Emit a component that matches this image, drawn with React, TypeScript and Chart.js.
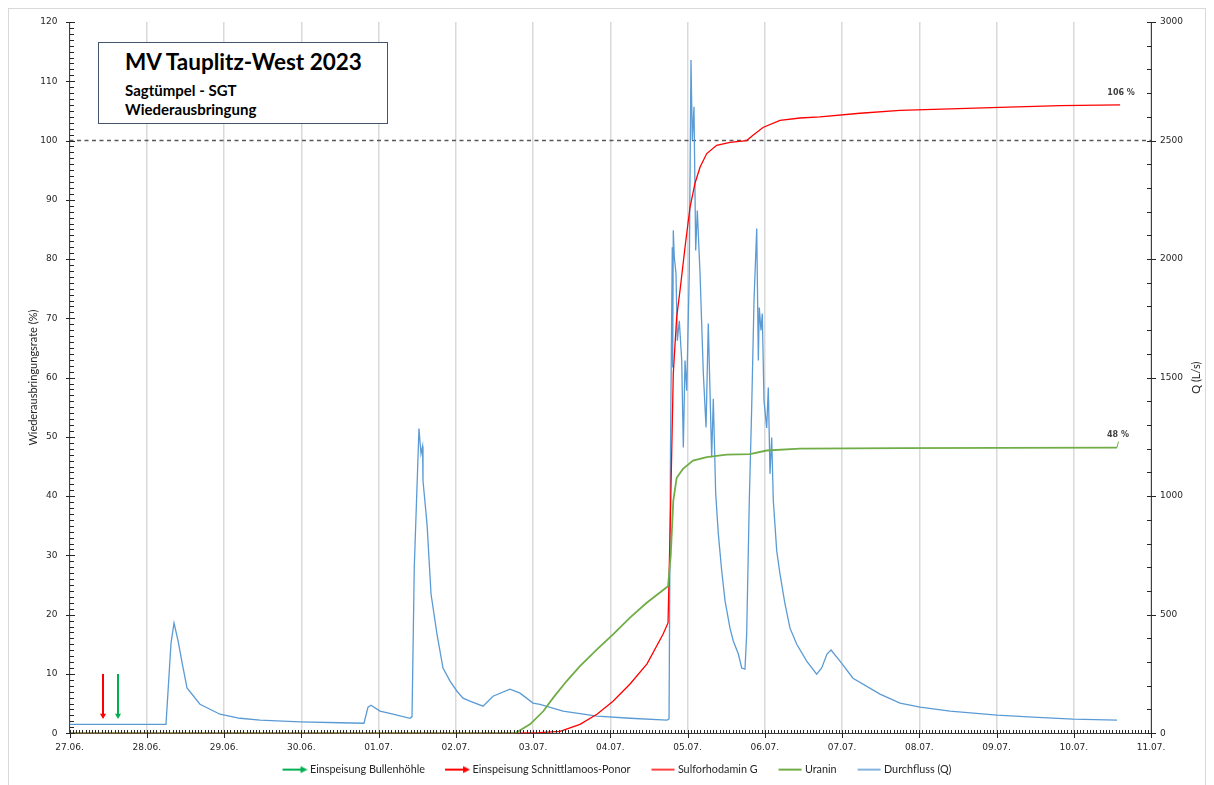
import React, { useEffect, useRef } from 'react';
import { Chart, registerables } from 'chart.js';

Chart.register(...registerables);

// ---------- data ----------
const dayLabels = ['27.06.', '28.06.', '29.06.', '30.06.', '01.07.', '02.07.', '03.07.', '04.07.', '05.07.', '06.07.', '07.07.', '08.07.', '09.07.', '10.07.', '11.07.'];

// time = days since 27.06. 00:00
const qTimes = [0, 1.249, 1.314, 1.353, 1.405, 1.456, 1.521, 1.689, 1.948, 2.207, 2.466, 2.984, 3.502, 3.812, 3.864, 3.903, 4.019, 4.188, 4.408, 4.434, 4.463, 4.524, 4.55, 4.57, 4.576, 4.628, 4.68, 4.757, 4.835, 4.926, 5.016, 5.094, 5.184, 5.353, 5.482, 5.702, 5.832, 6.0, 6.091, 6.388, 6.828, 7.256, 7.735, 7.761, 7.78, 7.803, 7.808, 7.816, 7.829, 7.851, 7.868, 7.894, 7.925, 7.946, 7.968, 7.99, 8.023, 8.045, 8.062, 8.084, 8.106, 8.127, 8.162, 8.205, 8.24, 8.269, 8.291, 8.313, 8.334, 8.365, 8.399, 8.443, 8.486, 8.55, 8.593, 8.658, 8.702, 8.744, 8.766, 8.8, 8.831, 8.861, 8.896, 8.917, 8.929, 8.951, 8.968, 8.99, 9.025, 9.046, 9.068, 9.09, 9.111, 9.155, 9.197, 9.262, 9.327, 9.414, 9.543, 9.672, 9.737, 9.806, 9.858, 9.974, 10.142, 10.492, 10.751, 11.01, 11.398, 12.006, 12.472, 12.99, 13.56];
const qValues = [37, 37, 380, 465, 390, 300, 191, 122, 80, 63, 55, 48, 44, 42, 110, 118, 93, 80, 63, 70, 698, 1285, 1178, 1210, 1065, 883, 587, 418, 275, 220, 177, 148, 135, 114, 156, 186, 169, 127, 122, 93, 72, 63, 55, 60, 1200, 2050, 1543, 2121, 2008, 1940, 1656, 1740, 1572, 1205, 1572, 1445, 1940, 2840, 2502, 2642, 2036, 2205, 1940, 1517, 1290, 1728, 1445, 1163, 1411, 1010, 841, 684, 558, 443, 389, 334, 275, 270, 418, 980, 1373, 1825, 2129, 1572, 1796, 1699, 1770, 1403, 1288, 1458, 1094, 1247, 980, 769, 672, 545, 443, 375, 304, 249, 275, 334, 351, 304, 232, 165, 127, 110, 93, 76, 68, 59, 55];

const sgTimes = [0, 5.789, 6.091, 6.35, 6.608, 6.828, 7.036, 7.256, 7.476, 7.683, 7.748, 7.783, 7.816, 7.86, 7.903, 7.968, 8.032, 8.097, 8.162, 8.249, 8.378, 8.55, 8.766, 8.848, 8.977, 9.197, 9.456, 9.715, 10.233, 10.751, 12.045, 12.822, 13.6];
const sgValues = [0, 0, 0.1, 0.3, 1.5, 3.2, 5.4, 8.3, 11.7, 16.7, 18.6, 39.2, 60.7, 70.2, 74.7, 82, 88.7, 92.8, 95.5, 97.8, 99.2, 99.7, 100, 100.9, 102.2, 103.4, 103.8, 104, 104.6, 105.1, 105.6, 105.9, 106];

const urTimes = [0, 5.767, 5.961, 6.133, 6.263, 6.436, 6.608, 6.825, 7.04, 7.256, 7.472, 7.748, 7.783, 7.816, 7.86, 7.942, 8.071, 8.249, 8.508, 8.809, 9.025, 9.456, 10.751, 12.045, 13.56];
const urValues = [0, 0, 1.5, 3.7, 6.0, 8.8, 11.3, 14.1, 16.7, 19.5, 22.0, 24.8, 30.0, 39.2, 43.1, 44.6, 46.0, 46.6, 47.0, 47.1, 47.7, 48.0, 48.1, 48.15, 48.2];

const injectionBullenhoehle = 0.628;
const injectionSchnittlamoos = 0.434;
const arrowFrom = 10;
const arrowTo = 3;
const fullRecovery = 100;

const seriesNames = ['Einspeisung Bullenhöhle', 'Einspeisung Schnittlamoos-Ponor', 'Sulforhodamin G', 'Uranin', 'Durchfluss (Q)'];
const endLabels = ['106 %', '48 %'];
const titleLines = ['MV Tauplitz-West 2023', 'Sagtümpel - SGT', 'Wiederausbringung'];
const leftAxisTitle = 'Wiederausbringungsrate (%)';
const rightAxisTitle = 'Q (L/s)';

const COLORS = {
  arrowGreen: '#00b050',
  arrowRed: '#ff0000',
  sg: '#ff0000',
  ur: '#70ad47',
  q: '#5b9bd5',
  axis: '#404040',
  tick: '#262626',
  grid: '#d9d9d9',
  text: '#262626',
};

const pts = (t: number[], v: number[]) => t.map((x, i) => ({ x, y: v[i] }));

const ICON_W = 48;

function makeIcon(kind: 'arrow' | 'line', color: string, width: number) {
  const c = document.createElement('canvas');
  c.width = ICON_W;
  c.height = 10;
  const g = c.getContext('2d')!;
  g.strokeStyle = color;
  g.fillStyle = color;
  g.lineWidth = width;
  g.beginPath();
  if (kind === 'arrow') {
    g.moveTo(23, 5);
    g.lineTo(42, 5);
    g.stroke();
    g.beginPath();
    g.moveTo(48, 5);
    g.lineTo(41, 1.5);
    g.lineTo(41, 8.5);
    g.closePath();
    g.fill();
  } else {
    g.moveTo(24, 5);
    g.lineTo(47, 5);
    g.stroke();
  }
  return c;
}

const decoPlugin = {
  id: 'deco',
  afterDatasetsDraw(chart: any) {
    const { ctx } = chart;
    ctx.save();
    ctx.font = 'bold 8px "DejaVu Sans"';
    ctx.fillStyle = '#404040';
    ctx.textAlign = 'center';
    ctx.textBaseline = 'middle';
    [2, 3].forEach((dsIndex, k) => {
      const meta = chart.getDatasetMeta(dsIndex);
      const last = meta.data[meta.data.length - 1];
      if (!last) return;
      if (k === 0) {
        ctx.fillText(endLabels[k], last.x + 1, last.y - 12);
      } else {
        ctx.strokeStyle = COLORS.ur;
        ctx.lineWidth = 1;
        ctx.beginPath();
        ctx.moveTo(last.x, last.y);
        ctx.lineTo(last.x + 1.5, last.y - 6);
        ctx.stroke();
        ctx.fillText(endLabels[k], last.x + 1, last.y - 13);
      }
    });
    ctx.restore();
  },
  afterDraw(chart: any) {
    const ctx = chart.ctx;
    const ca = chart.chartArea;
    const xs = chart.scales.x;
    const yl = chart.scales.y;
    const yr = chart.scales.y1;
    ctx.save();
    ctx.setLineDash([]);
    ctx.fillStyle = COLORS.tick;
    const L = Math.round(ca.left);
    const R = Math.round(ca.right);
    const B = Math.round(ca.bottom);
    for (let v = 0; v <= 120; v += 1) {
      const py = Math.round(yl.getPixelForValue(v));
      if (v % 10 === 0) ctx.fillRect(L - 4, py, 9, 1);
      else ctx.fillRect(L, py, 4, 1);
    }
    for (let v = 0; v <= 3000; v += 100) {
      const py = Math.round(yr.getPixelForValue(v));
      if (v % 500 === 0) ctx.fillRect(R - 4, py, 9, 1);
      else ctx.fillRect(R - 4, py, 5, 1);
    }
    for (let h = 0; h <= 14 * 24; h++) {
      const px = Math.round(xs.getPixelForValue(h / 24));
      if (h % 24 === 0) ctx.fillRect(px, B - 3, 1, 8);
      else ctx.fillRect(px, B - 3, 1, 3);
    }
    ctx.translate(chart.width - 9, (ca.top + ca.bottom) / 2);
    ctx.rotate(-Math.PI / 2);
    ctx.font = '11px Lato';
    ctx.fillStyle = COLORS.text;
    ctx.textAlign = 'center';
    ctx.textBaseline = 'middle';
    ctx.fillText(rightAxisTitle, 0, 0);
    ctx.restore();
  },
};

export default function App() {
  const ref = useRef<HTMLCanvasElement>(null);

  useEffect(() => {
    document.documentElement.style.overflow = 'hidden';
    const icons = [
      makeIcon('arrow', COLORS.arrowGreen, 2),
      makeIcon('arrow', COLORS.arrowRed, 2),
      makeIcon('line', COLORS.sg, 1.5),
      makeIcon('line', COLORS.ur, 2),
      makeIcon('line', COLORS.q, 1.5),
    ];
    const arrowDs = (label: string, t: number, color: string) => ({
      label,
      data: [{ x: t, y: arrowFrom }, { x: t, y: arrowTo }],
      yAxisID: 'y',
      borderColor: color,
      backgroundColor: color,
      borderWidth: 2,
      pointStyle: 'triangle',
      pointRotation: 180,
      pointRadius: (c: any) => (c.dataIndex === 1 ? 3.5 : 0),
      pointBorderWidth: 0,
      order: 0,
    });
    const tickFont = { family: 'DejaVu Sans', size: 9 };
    const chart = new Chart(ref.current!, {
      type: 'line',
      data: {
        datasets: [
          arrowDs(seriesNames[0], injectionBullenhoehle, COLORS.arrowGreen),
          arrowDs(seriesNames[1], injectionSchnittlamoos, COLORS.arrowRed),
          {
            label: seriesNames[2],
            data: pts(sgTimes, sgValues),
            yAxisID: 'y',
            borderColor: COLORS.sg,
            borderWidth: 1.3,
            pointRadius: 0,
            order: 3,
          },
          {
            label: seriesNames[3],
            data: pts(urTimes, urValues),
            yAxisID: 'y',
            borderColor: COLORS.ur,
            borderWidth: 1.8,
            pointRadius: 0,
            order: 2,
          },
          {
            label: seriesNames[4],
            data: pts(qTimes, qValues),
            yAxisID: 'y1',
            borderColor: COLORS.q,
            borderWidth: 1.3,
            pointRadius: 0,
            order: 5,
          },
          {
            label: '',
            data: [{ x: 0, y: fullRecovery }, { x: 14, y: fullRecovery }],
            yAxisID: 'y',
            borderColor: '#595959',
            borderWidth: 1.5,
            borderDash: [4, 3.5],
            pointRadius: 0,
            order: 6,
          },
        ],
      },
      options: {
        responsive: false,
        animation: false,
        events: [],
        layout: { padding: { left: 0, right: 0, top: 13, bottom: 0 } },
        scales: {
          x: {
            type: 'linear',
            min: 0,
            max: 14,
            ticks: {
              stepSize: 1,
              autoSkip: false,
              maxRotation: 0,
              padding: 9,
              color: COLORS.tick,
              font: tickFont,
              callback: (v: any) => dayLabels[Math.round(Number(v))] ?? '',
            },
            grid: { color: COLORS.grid, lineWidth: 1.5, drawTicks: false },
            border: { display: true, color: COLORS.axis, width: 1 },
            afterFit: (s: any) => {
              s.height = 31;
            },
          },
          y: {
            type: 'linear',
            position: 'left',
            min: 0,
            max: 120,
            ticks: { stepSize: 10, padding: 0, color: COLORS.tick, font: tickFont },
            grid: { drawOnChartArea: false, drawTicks: true, tickLength: 12, tickColor: 'rgba(0,0,0,0)' },
            border: { display: true, color: COLORS.axis, width: 1 },
            title: {
              display: true,
              text: leftAxisTitle,
              color: COLORS.text,
              font: { family: 'Lato', size: 11 },
              padding: { top: 17.4, bottom: 0 },
            },
            afterFit: (s: any) => {
              s.width = 60.5;
            },
          },
          y1: {
            type: 'linear',
            position: 'right',
            min: 0,
            max: 3000,
            ticks: {
              stepSize: 500,
              padding: 0,
              color: COLORS.tick,
              font: tickFont,
              callback: (v: any) => String(v),
            },
            grid: { drawOnChartArea: false, drawTicks: true, tickLength: 9, tickColor: 'rgba(0,0,0,0)' },
            border: { display: true, color: COLORS.axis, width: 1 },
            afterFit: (s: any) => {
              s.width = 54;
            },
          },
        },
        plugins: {
          tooltip: { enabled: false },
          title: { display: false },
          legend: {
            position: 'bottom',
            labels: {
              usePointStyle: true,
              pointStyleWidth: 42,
              boxHeight: 10,
              padding: 0,
              color: COLORS.text,
              font: { family: 'Lato', size: 10.8 },
              generateLabels: (ch: any) =>
                [0, 1, 2, 3, 4].map((i) => ({
                  text: ch.data.datasets[i].label,
                  pointStyle: icons[i],
                  fillStyle: 'rgba(0,0,0,0)',
                  strokeStyle: 'rgba(0,0,0,0)',
                  lineWidth: 0,
                  hidden: !ch.isDatasetVisible(i),
                  datasetIndex: i,
                  fontColor: COLORS.text,
                })),
            },
          },
        },
      },
      plugins: [decoPlugin],
    } as any);
    return () => chart.destroy();
  }, []);

  return (
    <div
      style={{
        position: 'relative',
        width: 1198,
        height: 778,
        border: '1px solid #d9d9d9',
        boxSizing: 'border-box',
        background: '#fff',
      }}
    >
      <canvas ref={ref} width={1196} height={776} style={{ display: 'block' }} />
      <div
        style={{
          position: 'absolute',
          left: 89,
          top: 33,
          width: 290,
          height: 82,
          border: '1.5px solid #44546a',
          boxSizing: 'border-box',
          background: '#fff',
        }}
      />
      <div style={{ position: 'absolute', left: 116, top: 41.5, font: 'bold 22.5px Lato', lineHeight: '22px', color: '#000', whiteSpace: 'nowrap' }}>
        {titleLines[0]}
      </div>
      <div style={{ position: 'absolute', left: 116, top: 72.2, font: 'bold 15px Lato', lineHeight: '18px', color: '#000', whiteSpace: 'nowrap' }}>
        {titleLines[1]}
      </div>
      <div style={{ position: 'absolute', left: 116, top: 90.5, font: 'bold 15px Lato', lineHeight: '18px', color: '#000', whiteSpace: 'nowrap' }}>
        {titleLines[2]}
      </div>
    </div>
  );
}
